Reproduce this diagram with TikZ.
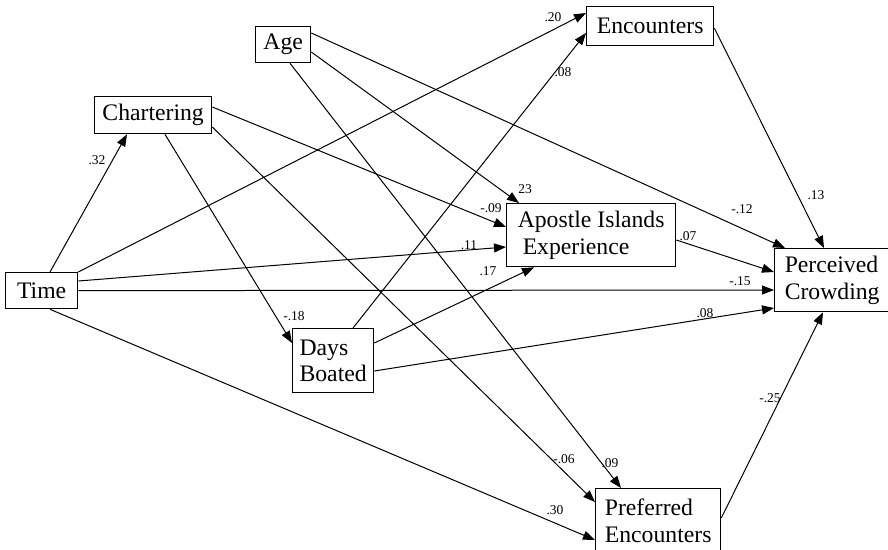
\documentclass[tikz,border=0pt]{standalone}
\usepackage{fontspec}
\setmainfont{Liberation Serif}
\usetikzlibrary{arrows.meta,calc}
\begin{document}
\begin{tikzpicture}[x=1pt,y=-1pt,
  box/.style={draw,line width=1.3pt,rectangle,anchor=north west,inner sep=0pt,
    font=\fontsize{23.7}{26.5}\selectfont,align=left},
  conn/.style={line width=1pt,-{Triangle[length=12pt,width=9pt]}},
  coef/.style={font=\fontsize{13.5}{14}\selectfont,inner sep=0pt}]
\useasboundingbox (0,0) rectangle (888,549);
% boxes
\node[box,minimum width=72pt,minimum height=36pt] (time) at (5,272) {Time};
\node[box,minimum width=117pt,minimum height=37pt] (chart) at (94,96) {Chartering};
\node[box,minimum width=55pt,minimum height=36pt] (age) at (255,26) {Age};
\node[box,minimum width=127pt,minimum height=39pt] (enc) at (586,6) {Encounters};
\node[box,minimum width=169pt,minimum height=63pt] (apo) at (506,203) {Apostle Islands\\\hspace*{5pt}Experience};
\node[box,minimum width=115pt,minimum height=63pt] (perc) at (774,248) {Perceived\\Crowding};
\node[box,minimum width=81pt,minimum height=64pt] (days) at (292,328) {Days\\Boated};
\node[box,minimum width=125pt,minimum height=64pt] (pref) at (595,488) {Preferred\\Encounters};
% connectors
\draw[conn] ($(time.north west)+(45,0)$) -- ($(chart.south west)+(33,0)$);
\draw[conn] (time.north east) -- ($(enc.north west)+(0,7)$);
\draw[conn] ($(time.north east)+(0,9)$) -- ($(apo.north west)+(0,44)$);
\draw[conn] (time.east) -- ($(perc.north west)+(0,42)$);
\draw[conn] ($(time.south west)+(45,0)$) -- ($(pref.north west)+(0,52)$);
\draw[conn] ($(chart.north east)+(0,11)$) -- ($(apo.north west)+(0,24)$);
\draw[conn] ($(chart.south west)+(71,0)$) -- ($(days.north west)+(0,15)$);
\draw[conn] ($(chart.north east)+(0,31)$) -- ($(pref.north west)+(0,14)$);
\draw[conn] ($(age.north east)+(0,7)$) -- ($(perc.north west)+(11,0)$);
\draw[conn] ($(age.north east)+(0,26)$) -- ($(apo.north west)+(13,0)$);
\draw[conn] ($(age.south west)+(35,0)$) -- ($(pref.north west)+(26,0)$);
\draw[conn] ($(enc.north east)+(0,22)$) -- ($(perc.north west)+(50,0)$);
\draw[conn] ($(apo.north east)+(0,37)$) -- ($(perc.north west)+(0,24)$);
\draw[conn] ($(days.north west)+(61,0)$) -- ($(enc.north west)+(0,27)$);
\draw[conn] ($(days.north east)+(0,15)$) -- ($(apo.south west)+(28,0)$);
\draw[conn] ($(days.north east)+(0,43)$) -- ($(perc.north west)+(0,60)$);
\draw[conn] ($(pref.north east)+(0,30)$) -- ($(perc.south west)+(49,0)$);
% coefficients
\node[coef] (l1) at (97,160) {.32};
\node[coef] (l2) at (553,17) {.20};
\node[coef] (l3) at (469,245) {.11};
\node[coef] (l4) at (740,281) {-.15};
\node[coef] (l5) at (555,510) {.30};
\node[coef] (l6) at (491,208) {-.09};
\node[coef] (l7) at (294,316) {-.18};
\node[coef] (l8) at (564,459) {-.06};
\node[coef] (l9) at (742,209) {-.12};
\node[coef] (l10) at (525,189) {23};
\node[coef] (l11) at (610,463) {.09};
\node[coef] (l12) at (816,195) {.13};
\node[coef] (l13) at (688,236) {.07};
\node[coef] (l14) at (563,72) {.08};
\node[coef] (l15) at (488,271) {.17};
\node[coef] (l16) at (705,313) {.08};
\node[coef] (l17) at (770,398) {-.25};
\end{tikzpicture}
\end{document}
